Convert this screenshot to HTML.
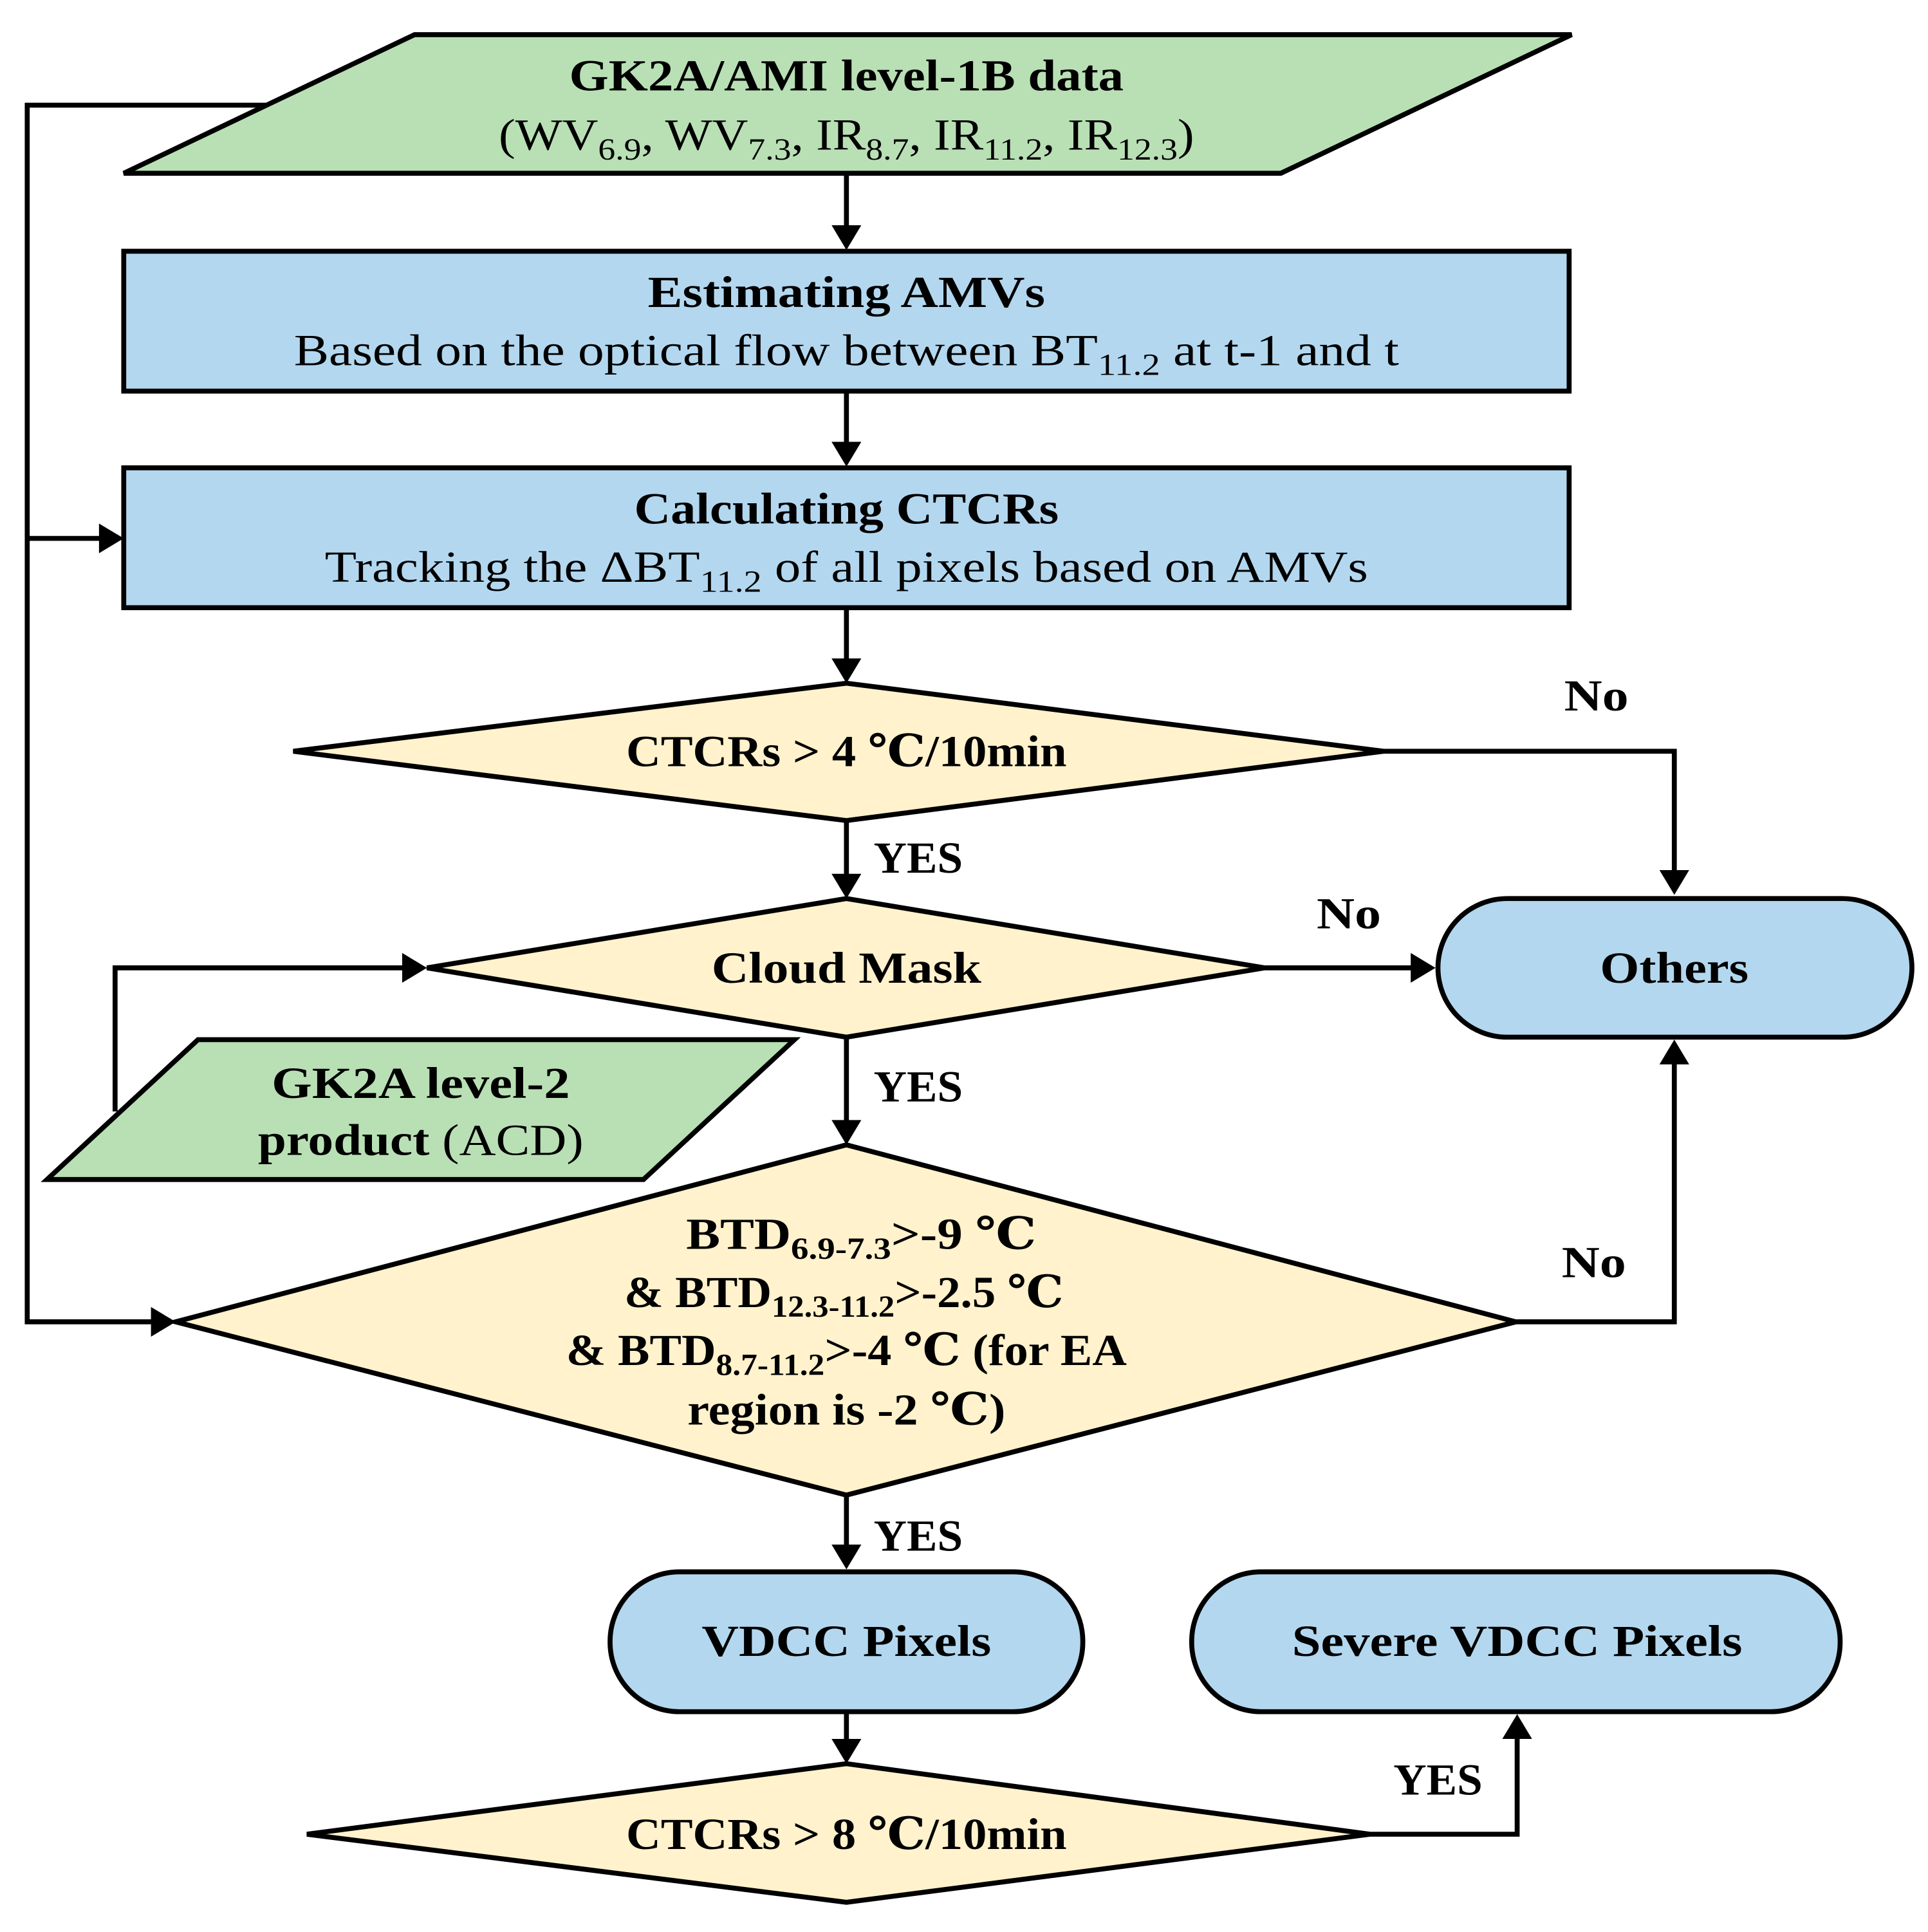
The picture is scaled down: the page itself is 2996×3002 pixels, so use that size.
<!DOCTYPE html>
<html><head><meta charset="utf-8"><style>
html,body{margin:0;padding:0;background:#fff}
svg{display:block}
text{font-family:"Liberation Serif","DejaVu Serif",serif;fill:#000}
.b{font-weight:bold}
</style></head><body>
<svg width="2996" height="3002" viewBox="0 0 1558 1561" preserveAspectRatio="none" xmlns="http://www.w3.org/2000/svg">
<g stroke="#000" stroke-width="4" fill="none">
<polyline points="215,85 22,85 22,1068 125,1068"/>
<polyline points="22,435 85,435"/>
<line x1="684" y1="140" x2="684" y2="186"/>
<line x1="684" y1="316" x2="684" y2="361"/>
<line x1="684" y1="491" x2="684" y2="536"/>
<polyline points="1118,607 1353,607 1353,707"/>
<line x1="684" y1="663" x2="684" y2="710"/>
<line x1="1022" y1="782" x2="1144" y2="782"/>
<polyline points="93,898 93,782 329,782"/>
<line x1="684" y1="838" x2="684" y2="909"/>
<polyline points="1225,1068 1353,1068 1353,856"/>
<line x1="684" y1="1208" x2="684" y2="1252"/>
<line x1="684" y1="1383" x2="684" y2="1409"/>
<polyline points="1107,1482 1226,1482 1226,1401"/>
</g>
<g fill="#000">
<polygon points="684,202 672,182 696,182"/>
<polygon points="684,377 672,357 696,357"/>
<polygon points="684,552 672,532 696,532"/>
<polygon points="1353,723 1341,703 1365,703"/>
<polygon points="684,726 672,706 696,706"/>
<polygon points="1160,782 1140,770 1140,794"/>
<polygon points="345,782 325,770 325,794"/>
<polygon points="100,435 80,423 80,447"/>
<polygon points="142,1068 122,1056 122,1080"/>
<polygon points="684,925 672,905 696,905"/>
<polygon points="1353,840 1341,860 1365,860"/>
<polygon points="684,1268 672,1248 696,1248"/>
<polygon points="684,1425 672,1405 696,1405"/>
<polygon points="1226,1385 1214,1405 1238,1405"/>
</g>
<g stroke="#000" stroke-width="4">
<polygon points="335,28 1270,28 1035,140 100,140" fill="#b9e0b5"/>
<rect x="100" y="203" width="1168" height="113" fill="#b3d7ef"/>
<rect x="100" y="378" width="1168" height="113" fill="#b3d7ef"/>
<polygon points="237,607 684,552 1118,607 684,663" fill="#fff2cc"/>
<polygon points="345,782 684,726 1022,782 684,838" fill="#fff2cc"/>
<rect x="1162" y="726" width="383" height="112" rx="56" fill="#b3d7ef"/>
<polygon points="160,840 642,840 520,953 38,953" fill="#b9e0b5"/>
<polygon points="142,1068 684,925 1225,1068 684,1208" fill="#fff2cc"/>
<rect x="493" y="1270" width="382" height="113" rx="56" fill="#b3d7ef"/>
<rect x="963" y="1270" width="524" height="113" rx="56" fill="#b3d7ef"/>
<polygon points="248,1482 684,1425 1107,1482 684,1537" fill="#fff2cc"/>
</g>
<g font-size="36" text-anchor="middle" lengthAdjust="spacingAndGlyphs">
<text x="684" y="73" class="b" textLength="448" lengthAdjust="spacingAndGlyphs">GK2A/AMI level-1B data</text>
<text x="684" y="121" textLength="562" lengthAdjust="spacingAndGlyphs">(WV<tspan font-size="25" dy="8">6.9</tspan><tspan dy="-8">, WV</tspan><tspan font-size="25" dy="8">7.3</tspan><tspan dy="-8">, IR</tspan><tspan font-size="25" dy="8">8.7</tspan><tspan dy="-8">, IR</tspan><tspan font-size="25" dy="8">11.2</tspan><tspan dy="-8">, IR</tspan><tspan font-size="25" dy="8">12.3</tspan><tspan dy="-8">)</tspan></text>
<text x="684" y="248" class="b" textLength="321" lengthAdjust="spacingAndGlyphs">Estimating AMVs</text>
<text x="684" y="295" textLength="893" lengthAdjust="spacingAndGlyphs">Based on the optical flow between BT<tspan font-size="25" dy="8">11.2</tspan><tspan dy="-8"> at t-1 and t</tspan></text>
<text x="684" y="423" class="b" textLength="343" lengthAdjust="spacingAndGlyphs">Calculating CTCRs</text>
<text x="684" y="470" textLength="843" lengthAdjust="spacingAndGlyphs">Tracking the ΔBT<tspan font-size="25" dy="8">11.2</tspan><tspan dy="-8"> of all pixels based on AMVs</tspan></text>
<text x="684" y="619" class="b" textLength="356" lengthAdjust="spacingAndGlyphs">CTCRs &gt; 4 ℃/10min</text>
<text x="684" y="794" class="b" textLength="218" lengthAdjust="spacingAndGlyphs">Cloud Mask</text>
<text x="1353" y="794" class="b" textLength="120" lengthAdjust="spacingAndGlyphs">Others</text>
<text x="340" y="887" class="b" textLength="241" lengthAdjust="spacingAndGlyphs">GK2A level-2</text>
<text x="340" y="933" textLength="263" lengthAdjust="spacingAndGlyphs"><tspan class="b">product</tspan> (ACD)</text>
<text x="696" y="1009" class="b" textLength="283" lengthAdjust="spacingAndGlyphs">BTD<tspan font-size="25" dy="8">6.9-7.3</tspan><tspan dy="-8">&gt;-9 ℃</tspan></text>
<text x="682" y="1056" class="b" textLength="355" lengthAdjust="spacingAndGlyphs">&amp; BTD<tspan font-size="25" dy="8">12.3-11.2</tspan><tspan dy="-8">&gt;-2.5 ℃</tspan></text>
<text x="684" y="1103" class="b" textLength="453" lengthAdjust="spacingAndGlyphs">&amp; BTD<tspan font-size="25" dy="8">8.7-11.2</tspan><tspan dy="-8">&gt;-4 ℃ (for EA</tspan></text>
<text x="684" y="1151" class="b" textLength="257" lengthAdjust="spacingAndGlyphs">region is -2 ℃)</text>
<text x="684" y="1338" class="b" textLength="234" lengthAdjust="spacingAndGlyphs">VDCC Pixels</text>
<text x="1226" y="1338" class="b" textLength="364" lengthAdjust="spacingAndGlyphs">Severe VDCC Pixels</text>
<text x="684" y="1494" class="b" textLength="356" lengthAdjust="spacingAndGlyphs">CTCRs &gt; 8 ℃/10min</text>
<text x="1290" y="574" class="b" textLength="52" lengthAdjust="spacingAndGlyphs">No</text>
<text x="1090" y="750" class="b" textLength="52" lengthAdjust="spacingAndGlyphs">No</text>
<text x="1288" y="1032" class="b" textLength="52" lengthAdjust="spacingAndGlyphs">No</text>
<text x="742" y="705" class="b" textLength="72" lengthAdjust="spacingAndGlyphs">YES</text>
<text x="742" y="890" class="b" textLength="72" lengthAdjust="spacingAndGlyphs">YES</text>
<text x="742" y="1253" class="b" textLength="72" lengthAdjust="spacingAndGlyphs">YES</text>
<text x="1162" y="1450" class="b" textLength="72" lengthAdjust="spacingAndGlyphs">YES</text>
</g>
</svg>
</body></html>
